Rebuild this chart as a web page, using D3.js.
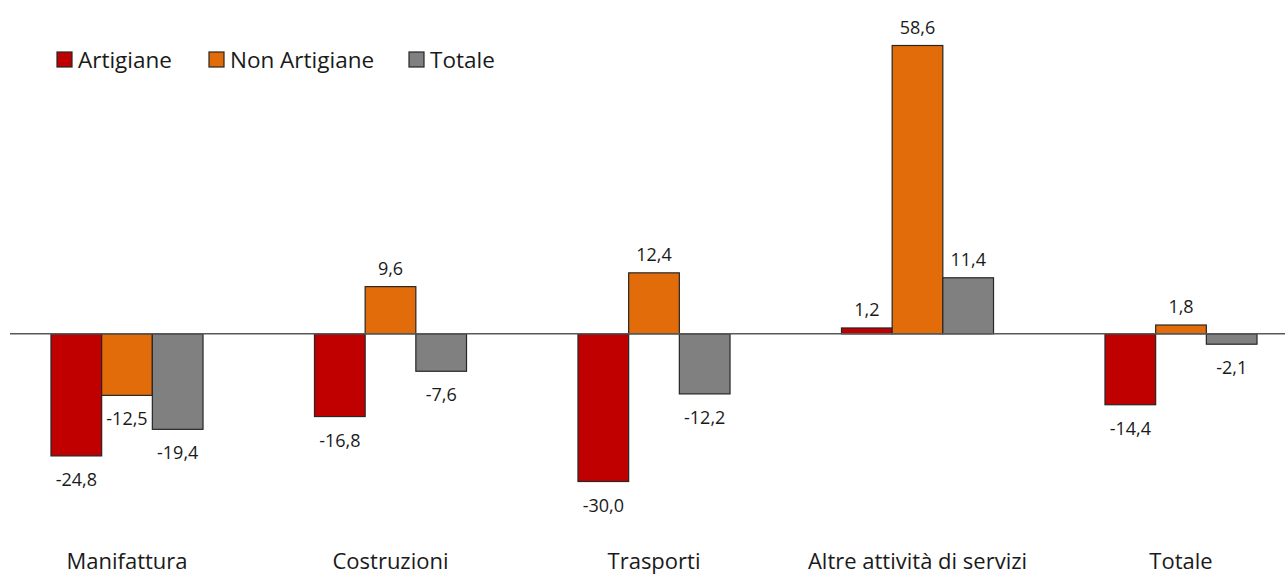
<!DOCTYPE html>
<html><head><meta charset="utf-8">
<script src="https://cdn.jsdelivr.net/npm/d3@7"></script>
<style>body{margin:0;background:#fff;}svg{display:block;font-family:"Open Sans",sans-serif;}</style>
</head><body>
<svg id="c" width="1285" height="576"></svg>
<script>
const categories = ["Manifattura","Costruzioni","Trasporti","Altre attività di servizi","Totale"];
const seriesNames = ["Artigiane","Non Artigiane","Totale"];
const artigiane = [-24.8,-16.8,-30.0,1.2,-14.4];
const nonArtigiane = [-12.5,9.6,12.4,58.6,1.8];
const totale = [-19.4,-7.6,-12.2,11.4,-2.1];
const colors = ["#C00000","#E36C0A","#808080"];

const series = [artigiane, nonArtigiane, totale];
const svg = d3.select("#c");
const x = d3.scaleBand().domain(categories).range([-4.75,1312.75]).paddingInner(0.423).paddingOuter(0.2115);
const xs = d3.scaleBand().domain(seriesNames).range([0,x.bandwidth()]);
const y = d3.scaleLinear().domain([-30,58.6]).range([481.5,45.5]);
const fmt = v => d3.format(".1f")(v).replace(".",",").replace("\u2212","-");

const g = svg.append("g");
categories.forEach((c,i)=>{
  series.forEach((s,j)=>{
    const v = s[i];
    const x0 = x(c)+xs(seriesNames[j]);
    g.append("rect").attr("x",x0).attr("width",xs.bandwidth())
      .attr("y",Math.min(y(v),y(0))).attr("height",Math.abs(y(v)-y(0)))
      .attr("fill",colors[j]).attr("stroke","#262626").attr("stroke-width",1.2);
    g.append("text").attr("x",x0+xs.bandwidth()/2)
      .attr("y", v>=0 ? y(v)-12 : y(v)+30)
      .attr("text-anchor","middle").attr("font-size",18).attr("fill","#1a1a1a").text(fmt(v));
  });
});
svg.append("line").attr("x1",10).attr("x2",1285).attr("y1",y(0)).attr("y2",y(0)).attr("stroke","#595959").attr("stroke-width",1.5);

const xa = d3.axisBottom(x).tickSize(0).tickPadding(0);
const ax = svg.append("g").attr("transform","translate(0,576)").call(xa);
ax.select(".domain").remove();
ax.selectAll("text").attr("font-size",22).attr("fill","#1a1a1a").attr("dy","-0.3em").style("font-family","'Open Sans',sans-serif");

// legend
const leg = svg.append("g");
const legX = [57,209,409];
seriesNames.forEach((n,j)=>{
  leg.append("rect").attr("x",legX[j]).attr("y",52).attr("width",15).attr("height",15).attr("fill",colors[j]).attr("stroke","#262626").attr("stroke-width",1.2);
  leg.append("text").attr("x",legX[j]+21).attr("y",68).attr("font-size",22.5).attr("fill","#1a1a1a").text(n);
});
</script>
</body></html>
